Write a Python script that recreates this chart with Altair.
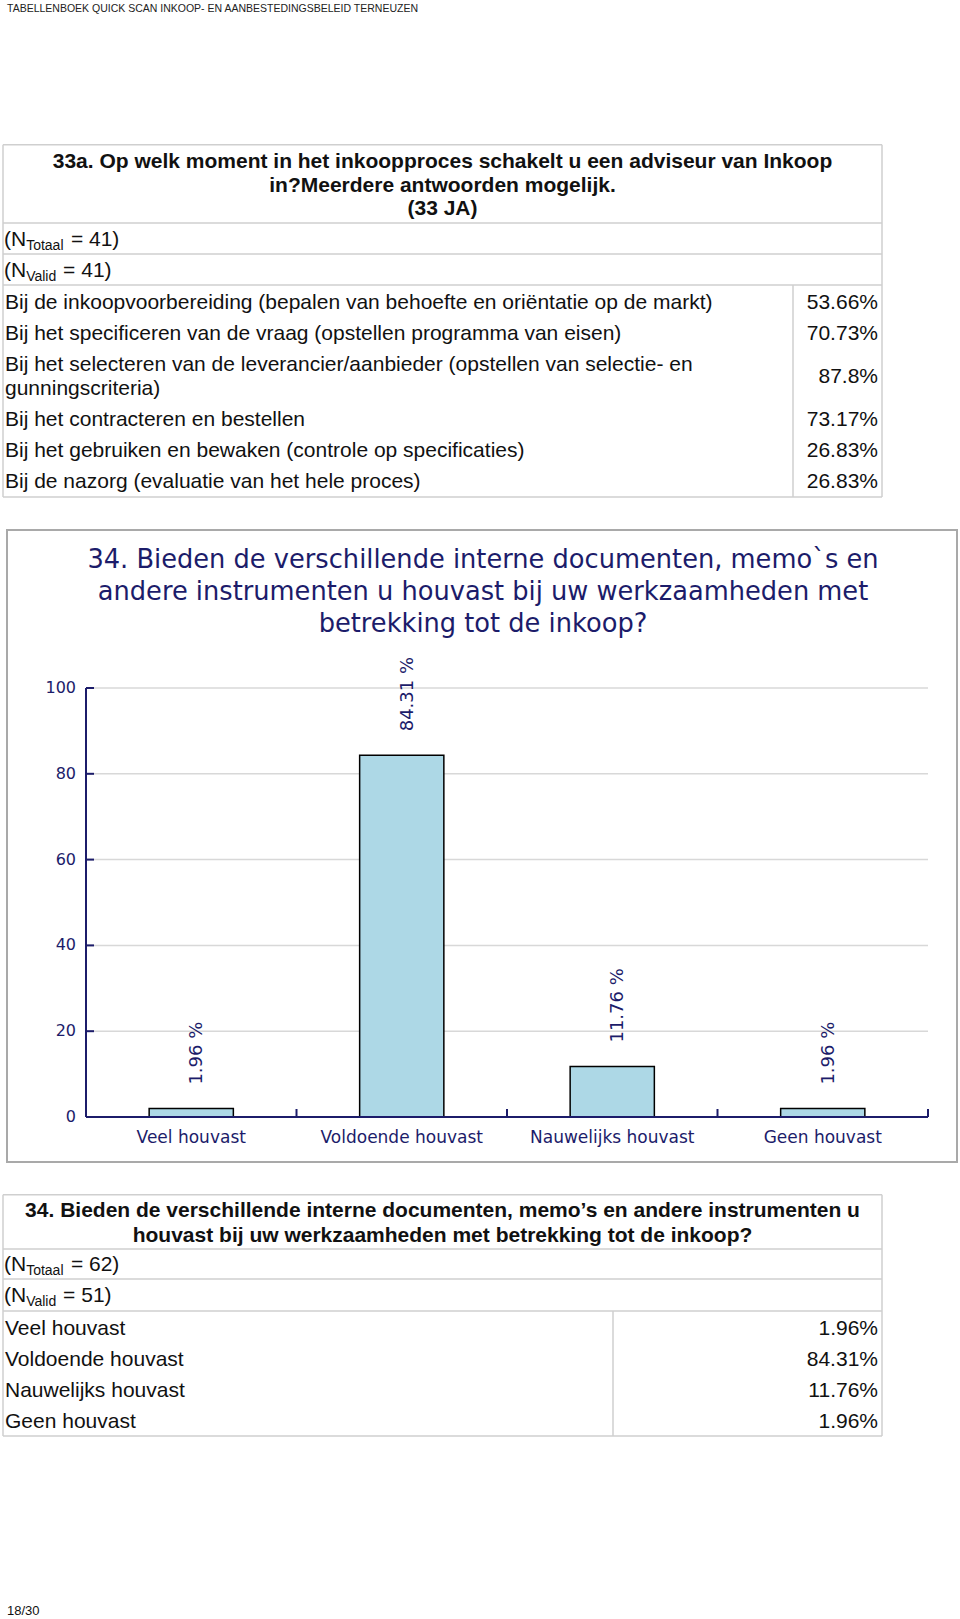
import altair as alt
import pandas as pd

# ---------------- data ----------------
HEADER = "TABELLENBOEK QUICK SCAN INKOOP- EN AANBESTEDINGSBELEID TERNEUZEN"
FOOTER = "18/30"

Q33_TITLE = [
    "33a. Op welk moment in het inkoopproces schakelt u een adviseur van Inkoop",
    "in?Meerdere antwoorden mogelijk.",
    "(33 JA)",
]
Q33_N = [("Totaal", 41), ("Valid", 41)]
Q33_ROWS = [
    "Bij de inkoopvoorbereiding (bepalen van behoefte en oriëntatie op de markt)",
    "Bij het specificeren van de vraag (opstellen programma van eisen)",
    "Bij het selecteren van de leverancier/aanbieder (opstellen van selectie- en\ngunningscriteria)",
    "Bij het contracteren en bestellen",
    "Bij het gebruiken en bewaken (controle op specificaties)",
    "Bij de nazorg (evaluatie van het hele proces)",
]
Q33_VALUES = [53.66, 70.73, 87.8, 73.17, 26.83, 26.83]

Q34_CHART_TITLE = [
    "34. Bieden de verschillende interne documenten, memo`s en",
    "andere instrumenten u houvast bij uw werkzaamheden met",
    "betrekking tot de inkoop?",
]
Q34_TABLE_TITLE = [
    "34. Bieden de verschillende interne documenten, memo\u2019s en andere instrumenten u",
    "houvast bij uw werkzaamheden met betrekking tot de inkoop?",
]
Q34_N = [("Totaal", 62), ("Valid", 51)]
Q34_CATS = ["Veel houvast", "Voldoende houvast", "Nauwelijks houvast", "Geen houvast"]
Q34_VALUES = [1.96, 84.31, 11.76, 1.96]
Y_TICKS = [0, 20, 40, 60, 80, 100]

# ---------------- style / layout ----------------
PAGE_W = 960
NAVY = "#1c1c6a"
GRID = "#d8d8d8"
BORDER = "#cfcfcf"
TXT = "#111111"
TFONT = "Liberation Sans"
CFONT = "DejaVu Sans"
TITLE_FONT = "DejaVu Sans"
TFS = 21
SUBFS = 14

AW = {"(": 333, "N": 722, "T": 611, "o": 556, "t": 278, "a": 556,
      "l": 222, "V": 667, "i": 222, "d": 556, " ": 278}


def arial_w(s, fs):
    return sum(AW[c] for c in s) / 1000 * fs


def table_panel(title_lines, title_ys, n_items, n_ys, rows, vals, hseps,
                box_bottom, sep_x, rows_top, panel_h, footer=None):
    X = alt.Scale(domain=[0, PAGE_W], range=[0, PAGE_W], nice=False, zero=False)
    Y = alt.Scale(domain=[0, panel_h], range=[0, panel_h], nice=False, zero=False)
    xe = alt.X("x:Q", scale=X, axis=None)
    ye = alt.Y("y:Q", scale=Y, axis=None)
    left, right = 3, 882
    segs = [(left, right, 0.75, 0.75), (left, right, box_bottom, box_bottom),
            (left, left, 0.75, box_bottom), (right, right, 0.75, box_bottom)]
    segs += [(left, right, h, h) for h in hseps]
    segs += [(sep_x, sep_x, hseps[-1], box_bottom)]
    ldf = pd.DataFrame(segs, columns=["x", "x2", "y", "y2"])
    lines = alt.Chart(ldf).mark_rule(color=BORDER, strokeWidth=1.5).encode(
        x=xe, x2="x2:Q", y=ye, y2="y2:Q")

    tdf = pd.DataFrame({"x": [(left + right) / 2] * len(title_lines),
                        "y": title_ys, "t": title_lines})
    title = alt.Chart(tdf).mark_text(font=TFONT, fontSize=TFS, fontWeight="bold",
                                     align="center", baseline="middle", color=TXT).encode(
        x=xe, y=ye, text="t:N")

    main_rows, sub_rows = [], []
    for (name, n), ny in zip(n_items, n_ys):
        x0 = 4
        x1 = x0 + arial_w("(N", TFS)
        x2 = x1 + arial_w(name, SUBFS) + arial_w(" ", TFS)
        main_rows.append({"x": x0, "y": ny + 7, "t": "(N"})
        sub_rows.append({"x": x1, "y": ny + 11, "t": name})
        main_rows.append({"x": x2, "y": ny + 7, "t": f"= {n})"})
    nmain = alt.Chart(pd.DataFrame(main_rows)).mark_text(
        font=TFONT, fontSize=TFS, align="left", baseline="alphabetic", color=TXT).encode(
        x=xe, y=ye, text="t:N")
    nsub = alt.Chart(pd.DataFrame(sub_rows)).mark_text(
        font=TFONT, fontSize=SUBFS, align="left", baseline="alphabetic", color=TXT).encode(
        x=xe, y=ye, text="t:N")

    lab_rows, val_rows = [], []
    top = rows_top
    for r, v in zip(rows, vals):
        parts = r.split("\n")
        h = 31 + 24 * (len(parts) - 1)
        c = top + h / 2
        for i, p in enumerate(parts):
            lab_rows.append({"x": 5, "y": c - (len(parts) - 1) * 12 + i * 24, "t": p})
        val_rows.append({"x": 878, "y": c, "t": f"{v:g}%"})
        top += h
    labs = alt.Chart(pd.DataFrame(lab_rows)).mark_text(
        font=TFONT, fontSize=TFS, align="left", baseline="middle", color=TXT).encode(
        x=xe, y=ye, text="t:N")
    valt = alt.Chart(pd.DataFrame(val_rows)).mark_text(
        font=TFONT, fontSize=TFS, align="right", baseline="middle", color=TXT).encode(
        x=xe, y=ye, text="t:N")
    layers = [lines, title, nmain, nsub, labs, valt]
    if footer is not None:
        fdf = pd.DataFrame({"x": [7], "y": [footer[1]], "t": [footer[0]]})
        layers.append(alt.Chart(fdf).mark_text(font=TFONT, fontSize=13, align="left",
                                               baseline="middle", color=TXT).encode(
            x=xe, y=ye, text="t:N"))
    return alt.layer(*layers).properties(width=PAGE_W, height=panel_h)


# ---------------- panel A: page header ----------------
panel_a = alt.Chart(pd.DataFrame({"t": [HEADER]})).mark_text(
    font=TFONT, fontSize=10.5, align="left",
    baseline="alphabetic", color="#222222").encode(
    x=alt.value(7), y=alt.value(12), text="t:N").properties(width=PAGE_W, height=144)

# ---------------- panel B: table 33a ----------------
panel_b = table_panel(Q33_TITLE, [17.5, 41.5, 65], Q33_N, [95, 126], Q33_ROWS, Q33_VALUES,
                      [79, 110, 141], 353, 793, 143.5, 385)

# ---------------- panel C: bar chart ----------------
C_H = 665
PL, PR, PT, PB = 86, 928, 159, 588
xs = alt.Scale(domain=Q34_CATS, range=[PL, PR], paddingInner=0, paddingOuter=0)
ys = alt.Scale(domain=[0, 100], range=[PB, PT], nice=False)
x_enc = alt.X("cat:N", scale=xs, axis=None)
y_enc = alt.Y("value:Q", scale=ys, axis=None)

bar_df = pd.DataFrame({"cat": Q34_CATS, "value": Q34_VALUES})
bar_df["label"] = [f"{v:.2f} %" for v in Q34_VALUES]
tick_df = pd.DataFrame({"value": Y_TICKS, "lab": [str(t) for t in Y_TICKS]})

box = alt.Chart(pd.DataFrame({"a": [0]})).mark_rect(
    fill="white", stroke="#a9a9a9", strokeWidth=2).encode(
    x=alt.value(7), x2=alt.value(957), y=alt.value(1), y2=alt.value(633))
grid = alt.Chart(tick_df[tick_df["value"] > 0]).mark_rule(
    color=GRID, strokeWidth=1.5).encode(y=y_enc, x=alt.value(PL), x2=alt.value(PR))
bars = alt.Chart(bar_df).mark_bar(width=alt.RelativeBandSize(0.4), fill="#add8e6",
                                  stroke="#000000", strokeWidth=1.5).encode(x=x_enc, y=y_enc)
vlabels = alt.Chart(bar_df).mark_text(angle=270, align="left", baseline="alphabetic",
                                      dx=24, dy=11, font=CFONT, fontSize=18,
                                      color=NAVY).encode(x=x_enc, y=y_enc, text="label:N")
# axis lines (domain) through the scales
ydomain = alt.Chart(pd.DataFrame({"value": [0], "v2": [100]})).mark_rule(
    color=NAVY, strokeWidth=2).encode(y=y_enc, y2="v2:Q", x=alt.value(PL))
xdomain = alt.Chart(pd.DataFrame({"value": [0]})).mark_rule(
    color=NAVY, strokeWidth=2).encode(y=y_enc, x=alt.value(PL), x2=alt.value(PR))
yticks = alt.Chart(tick_df).mark_rule(color=NAVY, strokeWidth=2).encode(
    y=y_enc, x=alt.value(PL), x2=alt.value(PL + 8))
xticks = alt.Chart(bar_df).mark_rule(color=NAVY, strokeWidth=2).encode(
    x=alt.X("cat:N", scale=xs, axis=None, bandPosition=1),
    y=alt.value(PB), y2=alt.value(PB - 8))
ylabels = alt.Chart(tick_df).mark_text(font=CFONT, fontSize=16, color=NAVY, align="right",
                                       baseline="middle").encode(
    y=y_enc, x=alt.value(PL - 10), text="lab:N")
xlabels = alt.Chart(bar_df).mark_text(font=CFONT, fontSize=17, color=NAVY, align="center",
                                      baseline="middle").encode(
    x=x_enc, y=alt.value(PB + 21), text="cat:N")
titles = [
    alt.Chart(pd.DataFrame({"t": [line]})).mark_text(
        font=TITLE_FONT, fontSize=25.7, color=NAVY, align="center", baseline="middle").encode(
        x=alt.value(483), y=alt.value(ty), text="t:N")
    for line, ty in zip(Q34_CHART_TITLE, [31, 63, 95])
]
panel_c = alt.layer(box, grid, bars, vlabels, ydomain, xdomain, yticks, xticks,
                    ylabels, xlabels, *titles).properties(width=PAGE_W, height=C_H)

# ---------------- panel D: table 34 + footer ----------------
panel_d = table_panel(Q34_TABLE_TITLE, [16.5, 41.5], Q34_N, [70, 101], Q34_CATS, Q34_VALUES,
                      [55, 85, 117], 242, 613, 119, 425, footer=(FOOTER, 417))

chart = alt.vconcat(panel_a, panel_b, panel_c, panel_d, spacing=0, bounds="flush",
                    padding=0, background="white").configure_view(strokeWidth=0)

chart.save("out.html", embed_options={"renderer": "svg", "actions": False})
